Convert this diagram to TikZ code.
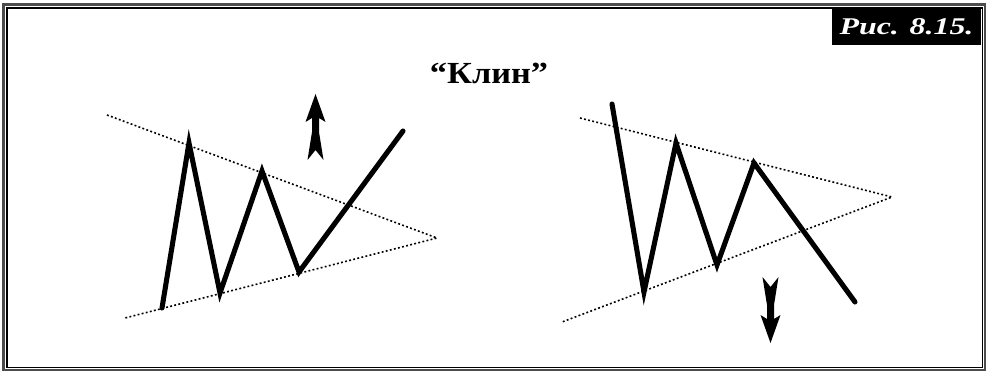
\documentclass[tikz,border=0pt]{standalone}
\usepackage{fontspec}
\setmainfont{Liberation Serif}
\usetikzlibrary{positioning}
\tikzset{
  zig/.style={line width=3.8pt, line cap=round, line join=miter},
  bound/.style={line width=1.2pt, dash pattern=on 1.4pt off 1.75pt},
  trend/.style={fill=black},
}

\begin{document}
\begin{tikzpicture}[x=0.75pt, y=-0.75pt]
    \useasboundingbox (0,0) rectangle (986,371);

    % frame
    \draw[line width=2.2pt, black!70] (3.5,4.5) rectangle (985,370);
    \draw[line width=0.8pt] (7,8) rectangle (982.5,367.5);

    % labels
    \node[fill=black, text=white, inner sep=0pt, minimum width=111.5pt, minimum height=27.5pt,
          font=\bfseries\itshape\fontsize{18}{21}\selectfont] (fig) at (906.5,26.5) {\scalebox{1.33}[1]{Рис. 8.15.}};
    \node[anchor=base, inner sep=0pt, font=\bfseries\fontsize{23}{27}\selectfont] (title) at (489,83) {\scalebox{1.12}[1]{“Клин”}};

    % left wedge
    \coordinate (lu) at (107,115);
    \coordinate (ll) at (125,318);
    \coordinate (la) at (437,238);
    \coordinate (l0) at (162,308);
    \coordinate (l1) at (189,143);
    \coordinate (l2) at (220,293);
    \coordinate (l3) at (262,171);
    \coordinate (l4) at (299,272);
    \coordinate (l5) at (403,131);

    \draw[bound] (lu) -- (la) -- (ll);
    \draw[zig] (l0) -- (l1) -- (l2) -- (l3) -- (l4) -- (l5);

    % right wedge
    \coordinate (ru) at (580,118);
    \coordinate (rl) at (562,322);
    \coordinate (ra) at (892,197);
    \coordinate (r0) at (612,104);
    \coordinate (r1) at (644,292);
    \coordinate (r2) at (676,143);
    \coordinate (r3) at (717,265);
    \coordinate (r4) at (754,163);
    \coordinate (r5) at (855,302);

    \draw[bound] (ru) -- (ra) -- (rl);
    \draw[zig] (r0) -- (r1) -- (r2) -- (r3) -- (r4) -- (r5);

    % breakout arrows
    \fill[trend, shift={(315.5,94)}, yscale=-1]
        (0,0) -- (10,-28) -- (3.5,-24) -- (3.5,-38) -- (8,-66) -- (0,-56) -- (-8,-66) -- (-3.5,-38) -- (-3.5,-24) -- (-10,-28) -- cycle;
    \fill[trend, shift={(770.5,343)}]
        (0,0) -- (10,-28) -- (3.5,-24) -- (3.5,-38) -- (8,-66) -- (0,-56) -- (-8,-66) -- (-3.5,-38) -- (-3.5,-24) -- (-10,-28) -- cycle;
\end{tikzpicture}
\end{document}
